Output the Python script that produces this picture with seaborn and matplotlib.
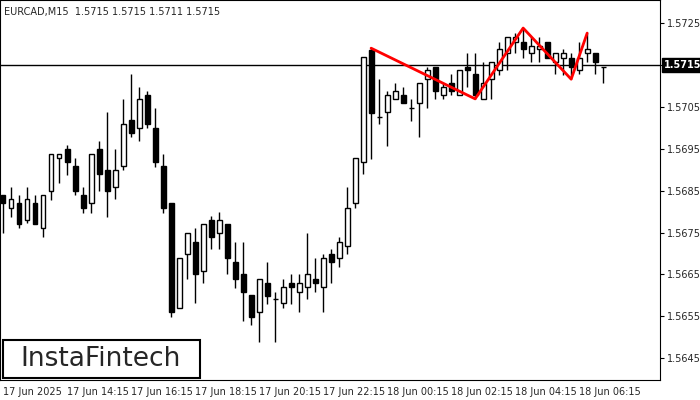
import matplotlib
matplotlib.use('Agg')
import matplotlib.pyplot as plt
import seaborn as sns
import numpy as np
import pandas as pd

# OHLC for 76 candles (M15)
opens = [1.56839,1.56808,1.56820,1.56780,1.56820,1.56760,1.56849,1.56928,1.56949,1.56909,
         1.56839,1.56820,1.56949,1.56899,1.56858,1.56909,1.57018,1.56999,1.57078,1.56999,
         1.56909,1.56820,1.56570,1.56698,1.56727,1.56658,1.56780,1.56749,1.56770,1.56679,
         1.56651,1.56601,1.56560,1.56629,1.56591,1.56581,1.56629,1.56608,1.56620,1.56639,
         1.56620,1.56698,1.56689,1.56718,1.56820,1.56918,1.57186,1.57026,1.57038,1.57069,
         1.57078,1.57047,1.57059,1.57116,1.57145,1.57078,1.57107,1.57078,1.57145,1.57128,
         1.57069,1.57116,1.57138,1.57178,1.57205,1.57205,1.57178,1.57188,1.57205,1.57157,
         1.57166,1.57166,1.57138,1.57178,1.57178,1.57145]
highs = [1.56839,1.56858,1.56839,1.56858,1.56839,1.56839,1.56937,1.56937,1.56959,1.56928,
         1.56858,1.56937,1.56968,1.57038,1.56949,1.57069,1.57128,1.57097,1.57088,1.57047,
         1.56937,1.56820,1.56689,1.56749,1.56760,1.56770,1.56789,1.56799,1.56770,1.56727,
         1.56727,1.56601,1.56639,1.56679,1.56608,1.56639,1.56651,1.56651,1.56749,1.56689,
         1.56698,1.56710,1.56739,1.56858,1.56928,1.57169,1.57190,1.57116,1.57088,1.57107,
         1.57097,1.57069,1.57107,1.57145,1.57145,1.57107,1.57128,1.57138,1.57178,1.57178,
         1.57157,1.57157,1.57205,1.57217,1.57226,1.57238,1.57217,1.57217,1.57205,1.57178,
         1.57188,1.57178,1.57205,1.57226,1.57178,1.57145]
lows = [1.56749,1.56787,1.56760,1.56772,1.56770,1.56739,1.56827,1.56868,1.56887,1.56839,
        1.56796,1.56796,1.56849,1.56787,1.56830,1.56899,1.56978,1.56968,1.56999,1.56906,
        1.56796,1.56548,1.56570,1.56639,1.56581,1.56629,1.56710,1.56710,1.56651,1.56617,
        1.56538,1.56529,1.56488,1.56579,1.56488,1.56570,1.56579,1.56560,1.56591,1.56608,
        1.56560,1.56629,1.56667,1.56698,1.56808,1.56890,1.56925,1.57009,1.56956,1.57069,
        1.57059,1.57016,1.56978,1.57047,1.57069,1.57069,1.57078,1.57078,1.57097,1.57069,
        1.57069,1.57069,1.57126,1.57138,1.57178,1.57166,1.57157,1.57157,1.57166,1.57128,
        1.57126,1.57116,1.57128,1.57157,1.57128,1.57107]
closes = [1.56820,1.56830,1.56770,1.56830,1.56770,1.56839,1.56937,1.56937,1.56918,1.56849,
          1.56808,1.56937,1.56890,1.56849,1.56899,1.57009,1.56987,1.57069,1.57009,1.56918,
          1.56808,1.56560,1.56689,1.56749,1.56651,1.56770,1.56739,1.56780,1.56689,1.56639,
          1.56608,1.56548,1.56639,1.56598,1.56591,1.56620,1.56620,1.56629,1.56651,1.56629,
          1.56689,1.56679,1.56727,1.56808,1.56928,1.57169,1.57035,1.57026,1.57078,1.57088,
          1.57059,1.57047,1.57107,1.57138,1.57088,1.57097,1.57088,1.57138,1.57138,1.57078,
          1.57107,1.57157,1.57188,1.57217,1.57217,1.57188,1.57195,1.57195,1.57166,1.57178,
          1.57178,1.57145,1.57166,1.57188,1.57157,1.57145]

# pattern line (triple top)
pattern_idx = [46, 59, 65, 71, 73]
pattern_price = [1.57190, 1.57069, 1.57238, 1.57116, 1.57226]

current_price = 1.5715
y_ticks = [1.5645, 1.5655, 1.5665, 1.5675, 1.5685, 1.5695, 1.5705, 1.5715, 1.5725]
x_tick_idx = [0, 8, 16, 24, 32, 40, 48, 56, 64, 72]
x_tick_labels = ['17 Jun 2025', '17 Jun 14:15', '17 Jun 16:15', '17 Jun 18:15', '17 Jun 20:15',
                 '17 Jun 22:15', '18 Jun 00:15', '18 Jun 02:15', '18 Jun 04:15', '18 Jun 06:15']

sns.set_style('white')
plt.rcParams['font.family'] = ['DejaVu Sans']

fig = plt.figure(figsize=(7, 4), dpi=100)
ax = fig.add_axes([0, 0.05, 660/700, 0.95])

x = np.arange(len(opens))
o = np.array(opens); c = np.array(closes)
ax.vlines(x, lows, highs, color='black', lw=1, zorder=2)
up = c >= o
body_lo = np.minimum(o, c)
body_h = np.maximum(np.abs(c - o), 0.000004)
ax.bar(x[up], body_h[up], bottom=body_lo[up], width=0.62, color='white', edgecolor='black', lw=1, zorder=3)
ax.bar(x[~up], body_h[~up], bottom=body_lo[~up], width=0.62, color='black', edgecolor='black', lw=1, zorder=3)

df = pd.DataFrame({'i': pattern_idx, 'p': pattern_price})
sns.lineplot(data=df, x='i', y='p', ax=ax, color='red', lw=2, sort=False, zorder=4)

ax.axhline(current_price, color='black', lw=1, zorder=1)

ax.set_xlim(-0.375, 82.1)
ax.set_ylim(1.56398, 1.57305)
ax.set_xlabel(''); ax.set_ylabel('')
ax.yaxis.tick_right()
ax.set_yticks(y_ticks)
# the current-price box takes the place of its tick label
ax.set_yticklabels(['' if abs(v - current_price) < 1e-9 else f'{v:.4f}' for v in y_ticks], fontsize=7)
ax.set_xticks(x_tick_idx)
ax.set_xticklabels(x_tick_labels, fontsize=7, ha='left')
ax.tick_params(axis='both', length=3, width=0.8, color='black', pad=2, direction='out')
for s in ax.spines.values():
    s.set_color('black'); s.set_linewidth(0.8)

ax.text(82.6, current_price, f'{current_price:.4f}', fontsize=7, color='white',
        va='center', ha='left', fontweight='bold', clip_on=False,
        bbox=dict(boxstyle='square,pad=0.2', fc='black', ec='black'))

fig.text(4/700, 1 - 12/400, 'EURCAD,M15  1.5715 1.5715 1.5711 1.5715', fontsize=7, va='center')

# logo box
fig.patches.append(plt.Rectangle((3/700, 1 - 378/400), 197/700, 38/400, transform=fig.transFigure,
                                 fill=True, fc='white', ec='black', lw=1.5, zorder=10))
fig.text(101/700, 1 - 359/400, 'InstaFintech', fontsize=19, ha='center', va='center', zorder=11)

fig.savefig('out.png', dpi=100)
